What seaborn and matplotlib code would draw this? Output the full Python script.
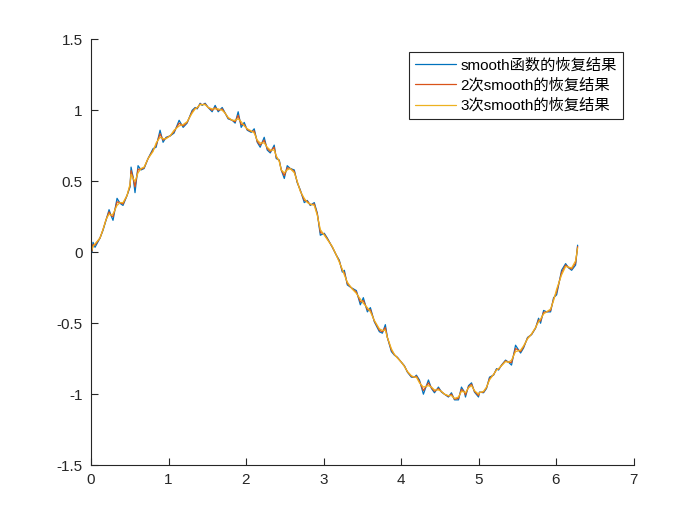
import numpy as np
import pandas as pd
import seaborn as sns
import matplotlib.pyplot as plt

# sample positions (t)
t = [0.000, 0.013, 0.026, 0.052, 0.116, 0.155, 0.194, 0.233, 0.258, 0.284,
     0.336, 0.375, 0.413, 0.465, 0.504, 0.517, 0.543, 0.568, 0.607, 0.646,
     0.685, 0.736, 0.801, 0.840, 0.891, 0.930, 0.969, 1.021, 1.072, 1.137,
     1.189, 1.240, 1.305, 1.344, 1.370, 1.408, 1.434, 1.473, 1.512, 1.563,
     1.602, 1.641, 1.693, 1.731, 1.770, 1.822, 1.860, 1.899, 1.938, 1.977,
     2.016, 2.067, 2.106, 2.145, 2.183, 2.235, 2.274, 2.313, 2.364, 2.390,
     2.429, 2.455, 2.494, 2.532, 2.571, 2.623, 2.661, 2.700, 2.752, 2.791,
     2.829, 2.881, 2.920, 2.959, 3.010, 3.049, 3.114, 3.165, 3.204, 3.243,
     3.269, 3.307, 3.359, 3.372, 3.424, 3.475, 3.514, 3.566, 3.605, 3.656,
     3.721, 3.760, 3.798, 3.824, 3.876, 3.915, 3.953, 4.005, 4.044, 4.083,
     4.134, 4.173, 4.199, 4.238, 4.289, 4.354, 4.393, 4.432, 4.483, 4.522,
     4.561, 4.612, 4.651, 4.690, 4.742, 4.780, 4.819, 4.832, 4.871, 4.910,
     4.948, 5.000, 5.013, 5.065, 5.103, 5.142, 5.194, 5.233, 5.258, 5.297,
     5.349, 5.388, 5.426, 5.478, 5.543, 5.581, 5.633, 5.685, 5.736, 5.775,
     5.801, 5.840, 5.879, 5.930, 5.969, 6.008, 6.072, 6.124, 6.163, 6.202,
     6.253, 6.279]

# smooth once
y1 = [0.00, 0.00, 0.07, 0.035, 0.10, 0.155, 0.225, 0.30, 0.26, 0.225,
      0.38, 0.345, 0.33, 0.40, 0.46, 0.60, 0.53, 0.42, 0.61, 0.58,
      0.59, 0.66, 0.73, 0.74, 0.86, 0.775, 0.81, 0.82, 0.84, 0.93,
      0.88, 0.91, 1.00, 1.02, 1.01, 1.05, 1.035, 1.05, 1.02, 0.99,
      1.035, 0.99, 1.02, 0.98, 0.94, 0.93, 0.91, 0.99, 0.88, 0.915,
      0.86, 0.845, 0.87, 0.775, 0.74, 0.81, 0.72, 0.70, 0.755, 0.66,
      0.65, 0.58, 0.52, 0.61, 0.59, 0.58, 0.49, 0.44, 0.35, 0.365,
      0.33, 0.35, 0.275, 0.12, 0.134, 0.10, 0.035, -0.02, -0.056, -0.14,
      -0.127, -0.23, -0.25, -0.254, -0.27, -0.37, -0.32, -0.42, -0.39, -0.49,
      -0.56, -0.57, -0.51, -0.60, -0.70, -0.725, -0.74, -0.775, -0.80, -0.845,
      -0.88, -0.88, -0.866, -0.90, -1.00, -0.90, -0.96, -0.99, -0.95, -0.985,
      -1.00, -1.02, -0.99, -1.04, -1.04, -0.95, -0.985, -1.02, -0.94, -0.92,
      -0.985, -1.02, -0.985, -0.99, -0.96, -0.88, -0.866, -0.82, -0.83, -0.795,
      -0.76, -0.775, -0.795, -0.655, -0.71, -0.675, -0.60, -0.58, -0.535, -0.465,
      -0.50, -0.41, -0.42, -0.42, -0.32, -0.30, -0.127, -0.08, -0.11, -0.127,
      -0.09, 0.05]

# smooth twice
y2 = [0.00, 0.01, 0.055, 0.05, 0.10, 0.16, 0.23, 0.285, 0.26, 0.25,
      0.355, 0.35, 0.34, 0.40, 0.47, 0.575, 0.525, 0.46, 0.585, 0.585,
      0.595, 0.66, 0.72, 0.755, 0.835, 0.79, 0.805, 0.82, 0.85, 0.91,
      0.89, 0.915, 0.99, 1.015, 1.015, 1.045, 1.04, 1.045, 1.02, 1.00,
      1.02, 1.00, 1.01, 0.98, 0.945, 0.93, 0.92, 0.965, 0.90, 0.90,
      0.865, 0.85, 0.855, 0.78, 0.755, 0.79, 0.73, 0.71, 0.74, 0.67,
      0.645, 0.58, 0.54, 0.595, 0.59, 0.57, 0.495, 0.435, 0.365, 0.36,
      0.335, 0.34, 0.27, 0.14, 0.127, 0.095, 0.037, -0.02, -0.063, -0.13,
      -0.143, -0.22, -0.25, -0.257, -0.28, -0.35, -0.34, -0.405, -0.405, -0.485,
      -0.55, -0.56, -0.53, -0.60, -0.69, -0.722, -0.742, -0.775, -0.802, -0.842,
      -0.875, -0.88, -0.873, -0.91, -0.975, -0.92, -0.955, -0.98, -0.96, -0.982,
      -1.00, -1.015, -1.00, -1.035, -1.03, -0.965, -0.985, -1.005, -0.948, -0.93,
      -0.98, -1.01, -0.988, -0.985, -0.955, -0.89, -0.863, -0.825, -0.825, -0.797,
      -0.765, -0.775, -0.777, -0.678, -0.70, -0.668, -0.605, -0.578, -0.533, -0.477,
      -0.485, -0.423, -0.42, -0.41, -0.33, -0.28, -0.143, -0.09, -0.108, -0.118,
      -0.075, 0.04]

# smooth three times
y3 = [0.00, 0.02, 0.04, 0.06, 0.10, 0.16, 0.23, 0.27, 0.26, 0.27,
      0.33, 0.35, 0.35, 0.40, 0.48, 0.55, 0.52, 0.50, 0.56, 0.59,
      0.60, 0.66, 0.71, 0.77, 0.81, 0.80, 0.80, 0.82, 0.86, 0.89,
      0.90, 0.92, 0.98, 1.01, 1.02, 1.04, 1.04, 1.04, 1.02, 1.01,
      1.01, 1.01, 1.00, 0.98, 0.95, 0.93, 0.93, 0.94, 0.92, 0.89,
      0.87, 0.855, 0.84, 0.79, 0.77, 0.77, 0.74, 0.72, 0.72, 0.68,
      0.64, 0.58, 0.56, 0.58, 0.59, 0.56, 0.50, 0.43, 0.38, 0.35,
      0.34, 0.33, 0.26, 0.16, 0.12, 0.09, 0.04, -0.02, -0.07, -0.12,
      -0.16, -0.21, -0.25, -0.26, -0.29, -0.33, -0.36, -0.39, -0.42, -0.48,
      -0.54, -0.55, -0.55, -0.60, -0.68, -0.72, -0.745, -0.775, -0.805, -0.84,
      -0.87, -0.88, -0.88, -0.92, -0.95, -0.94, -0.95, -0.97, -0.97, -0.98,
      -1.00, -1.01, -1.01, -1.03, -1.02, -0.98, -0.985, -0.99, -0.955, -0.94,
      -0.975, -1.00, -0.99, -0.98, -0.95, -0.90, -0.86, -0.83, -0.82, -0.80,
      -0.77, -0.775, -0.76, -0.70, -0.69, -0.66, -0.61, -0.575, -0.53, -0.49,
      -0.47, -0.435, -0.42, -0.40, -0.34, -0.26, -0.16, -0.10, -0.105, -0.11,
      -0.06, 0.03]

labels = ['smooth函数的恢复结果', '2次smooth的恢复结果', '3次smooth的恢复结果']
line_colors = ['#0072BD', '#D95319', '#EDB120']

xticks = [0, 1, 2, 3, 4, 5, 6, 7]
yticks = [-1.5, -1, -0.5, 0, 0.5, 1, 1.5]
ytick_labels = ['-1.5', '-1', '-0.5', '0', '0.5', '1', '1.5']

sns.set_style('ticks')
plt.rcParams['font.family'] = ['Liberation Sans', 'Noto Sans CJK SC', 'DejaVu Sans']
plt.rcParams['axes.unicode_minus'] = False

axis_grey = '#262626'

fig = plt.figure(figsize=(7, 5.25), dpi=100)
ax = fig.add_axes([0.13, 0.114, 0.775, 0.811])

for ys, lab, col in zip([y1, y2, y3], labels, line_colors):
    df = pd.DataFrame({'t': t, 'y': ys})
    sns.lineplot(data=df, x='t', y='y', ax=ax, color=col, label=lab,
                 linewidth=0.9, sort=False, estimator=None)

ax.set_xlim(0, 7)
ax.set_ylim(-1.5, 1.5)
ax.set_xticks(xticks)
ax.set_xticklabels([str(v) for v in xticks])
ax.set_yticks(yticks)
ax.set_yticklabels(ytick_labels)
ax.set_xlabel('')
ax.set_ylabel('')

sns.despine(ax=ax)
for side in ['left', 'bottom']:
    ax.spines[side].set_color(axis_grey)
    ax.spines[side].set_linewidth(0.8)
ax.tick_params(direction='in', length=5, width=0.8, colors=axis_grey,
               labelsize=11, pad=6)

leg = ax.legend(loc='upper right', bbox_to_anchor=(0.98, 0.97),
                fancybox=False, framealpha=1, edgecolor='#262626',
                fontsize=11, handlelength=2.7, labelspacing=0.38,
                borderpad=0.4, handletextpad=0.25, borderaxespad=0)
leg.get_frame().set_linewidth(0.8)
for txt in leg.get_texts():
    txt.set_color('#000000')

plt.savefig('out.png', dpi=100)
